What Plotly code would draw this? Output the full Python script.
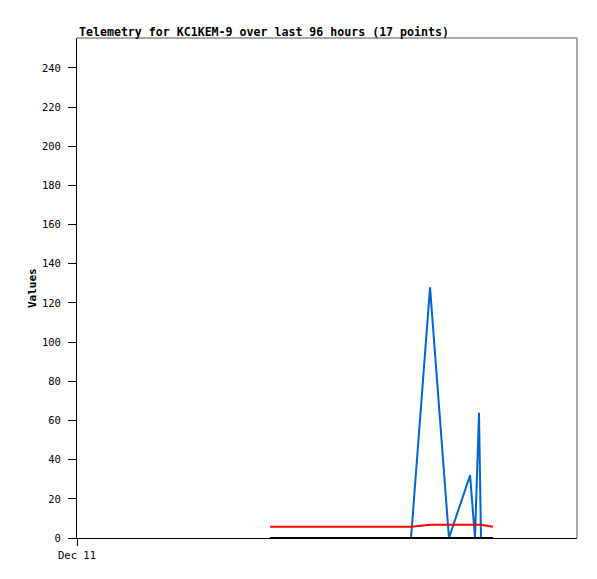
import plotly.graph_objects as go

times = [
    "2023-12-12 13:04", "2023-12-13 16:08", "2023-12-13 19:47", "2023-12-13 23:25",
    "2023-12-14 03:28", "2023-12-14 04:25", "2023-12-14 05:11", "2023-12-14 05:34",
    "2023-12-14 07:52",
]
series_blue = [0, 0, 128, 0, 32, 0, 64, 0, 0]
series_red = [5.8, 5.8, 6.8, 6.8, 6.8, 6.8, 6.8, 6.8, 5.8]
series_black = [0, 0, 0, 0, 0, 0, 0, 0, 0]

title_text = "Telemetry for KC1KEM-9 over last 96 hours (17 points)"
x_start = "2023-12-11 00:00"
x_end = "2023-12-15 00:00"
y_ticks = list(range(0, 241, 20))

mono = "DejaVu Sans Mono"

fig = go.Figure()
fig.add_trace(go.Scatter(x=times, y=series_blue, mode="lines",
                         line=dict(color="#0066cc", width=2), showlegend=False))
fig.add_trace(go.Scatter(x=times, y=series_red, mode="lines",
                         line=dict(color="#ff0000", width=2), showlegend=False))
fig.add_trace(go.Scatter(x=times, y=series_black, mode="lines",
                         line=dict(color="#000000", width=2), showlegend=False))

# page body has an 8px margin, so the figure is offset by 8px
fig.update_layout(
    width=589, height=571,
    margin=dict(l=69, r=20, t=30, b=41, autoexpand=False),
    paper_bgcolor="white", plot_bgcolor="white",
    font=dict(family=mono, size=10.5, color="black"),
    showlegend=False,
    xaxis=dict(
        type="date", range=[x_start, x_end],
        tickvals=[x_start], ticktext=["Dec 11"],
        ticks="outside", ticklen=7, tickcolor="black",
        showgrid=False, zeroline=False,
        showline=True, linecolor="black", linewidth=1,
        tickfont=dict(family=mono, size=10.5),
    ),
    yaxis=dict(
        range=[0, 255.3], tickvals=y_ticks,
        ticks="outside", ticklen=8, tickcolor="black",
        ticklabelstandoff=5,
        showgrid=False, zeroline=False,
        showline=True, linecolor="black", linewidth=1,
        tickfont=dict(family=mono, size=10.5),
    ),
    shapes=[
        dict(type="line", xref="paper", yref="paper", x0=0, x1=1, y0=1, y1=1,
             line=dict(color="#555555", width=1)),
        dict(type="line", xref="paper", yref="paper", x0=1, x1=1, y0=0, y1=1,
             line=dict(color="#555555", width=1)),
    ],
    annotations=[
        dict(text="<b>" + title_text + "</b>", xref="paper", yref="paper",
             x=0, y=1, xanchor="left", yanchor="bottom", yshift=-3, showarrow=False,
             font=dict(family=mono, size=11.6, color="black")),
        dict(text="<b>Values</b>", xref="paper", yref="paper",
             x=0, y=0.5, xanchor="center", yanchor="middle", xshift=-45,
             textangle=-90, showarrow=False,
             font=dict(family=mono, size=11, color="black")),
    ],
)

fig.write_html("out.html")
